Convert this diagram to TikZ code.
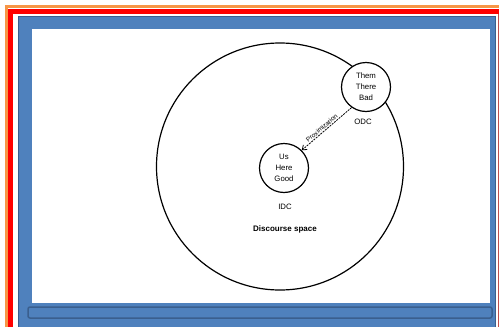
\documentclass[tikz,border=0pt]{standalone}
\usepackage{fontspec}
\setmainfont{Liberation Sans}
\definecolor{slblue}{HTML}{4F81BD}
\definecolor{sldark}{HTML}{3A5F8E}
\definecolor{slred}{HTML}{FF0000}
\definecolor{sledge}{HTML}{C0504D}
\definecolor{slorange}{HTML}{F79646}
\usetikzlibrary{arrows.meta}

\begin{document}
\begin{tikzpicture}[x=1pt, y=-1pt,
    zone/.style={circle, draw, fill=white, line width=1.2pt, minimum size=49pt, inner sep=0pt,
                 align=center, font=\fontsize{7.8}{11}\selectfont},
    tag/.style={font=\fontsize{7.8}{9}\selectfont},
  ]
    \useasboundingbox (0,0) rectangle (499,327);
    \fill[white] (0,0) rectangle (499,327);
    % slide frame
    \draw[slorange, line width=3pt] (6.5,327) -- (6.5,6.5) -- (499,6.5);
    \draw[slred, line width=5pt] (10.5,327) -- (10.5,11.5) -- (499,11.5);
    \draw[sledge, line width=1pt] (498,14) -- (498,327);
    \filldraw[fill=slblue, draw=sldark, line width=0.8pt] (18.5,16.5) rectangle (495,330);
    \fill[white] (32,29) rectangle (490,303);
    \filldraw[fill=slblue, draw=sldark, line width=1.5pt, rounded corners=2pt] (28,307) rectangle (492,318);
    % diagram
    \node[circle, draw, line width=1.2pt, minimum size=247pt] (space) at (280,166.5) {};
    \node[zone] (them) at (366,87) {Them\\There\\Bad};
    \node[zone] (us) at (284,168) {Us\\Here\\Good};
    \node[tag] (odc) at (363,122) {ODC};
    \node[tag] (idc) at (285,207) {IDC};
    \node[tag, font=\fontsize{8}{10}\selectfont\bfseries] (spacelbl) at (285,229) {Discourse space};
    \draw[dash pattern=on 2pt off 1pt, line width=0.8pt, -{Straight Barb[length=4pt, width=6pt]}]
      (them.235) -- node[sloped, above, pos=0.55, inner sep=1pt, font=\fontsize{6.5}{7}\selectfont] {Proximization} (us.45);
\end{tikzpicture}
\end{document}
